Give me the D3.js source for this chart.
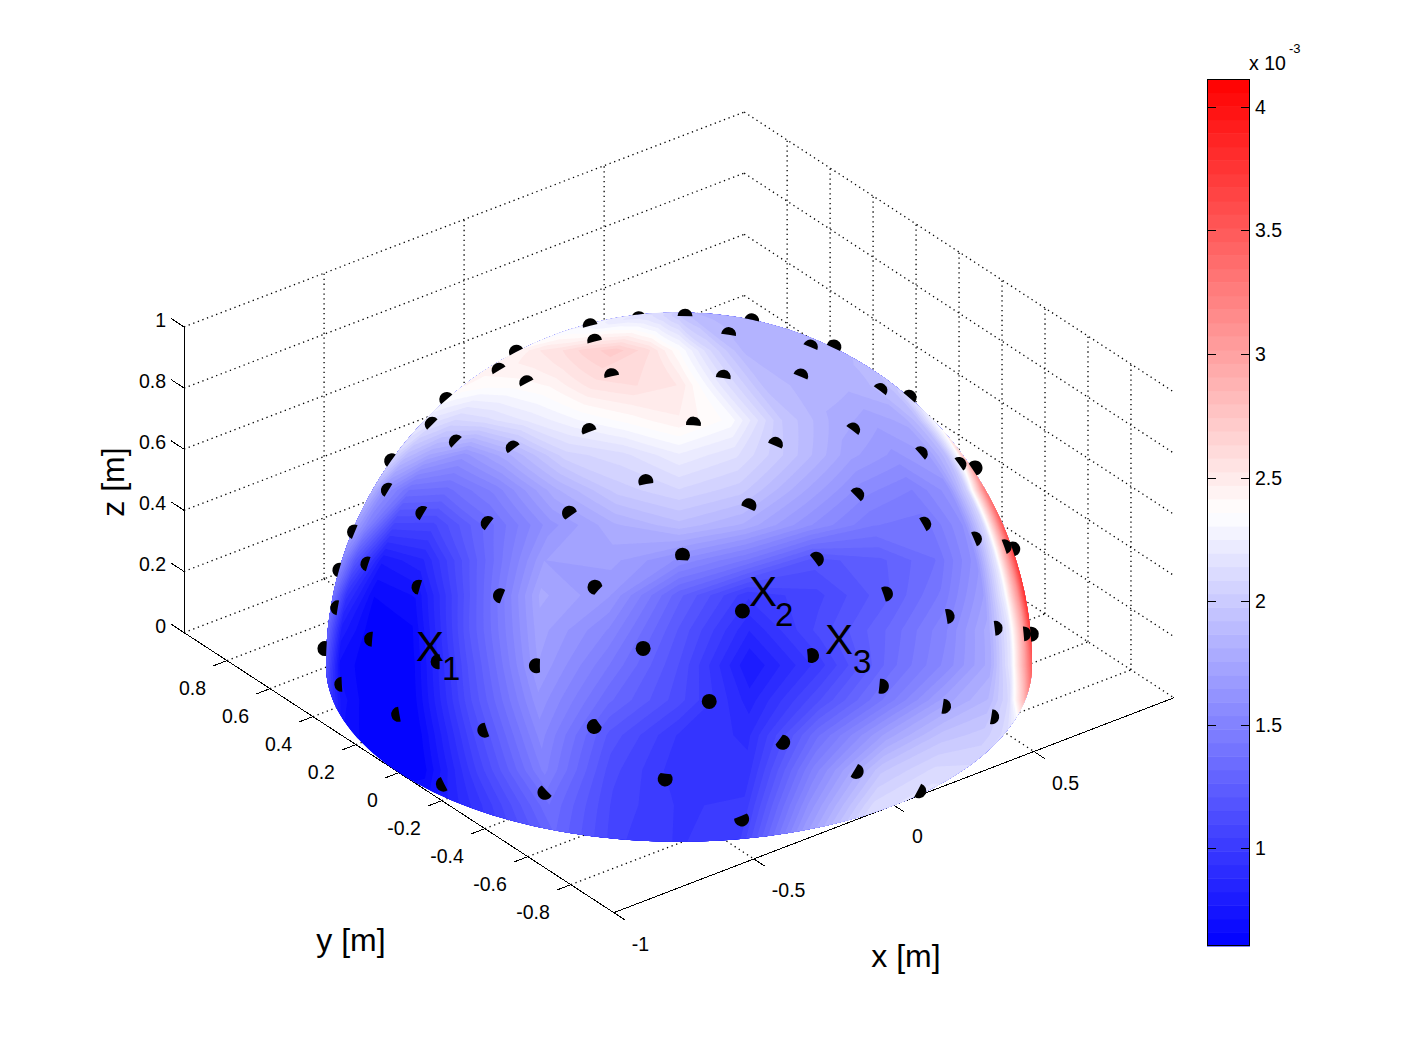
<!DOCTYPE html>
<html>
<head>
<meta charset="utf-8">
<script src="https://cdn.jsdelivr.net/npm/d3@7"></script>
<style>
  body { margin: 0; background: #fff; }
  text { font-family: "Liberation Sans", sans-serif; fill: #000; }
</style>
</head>
<body>
<div id="chart"></div>
<script>
// ----------- Data --------------
var xTicks = [-1, -0.5, 0, 0.5];
var yTicks = [-0.8, -0.6, -0.4, -0.2, 0, 0.2, 0.4, 0.6, 0.8];
var zTicks = [0, 0.2, 0.4, 0.6, 0.8, 1];
var colorTicks = [1, 1.5, 2, 2.5, 3, 3.5, 4];
var colorRange = [0.604, 4.113];

// sensor positions on the dome [m]
var sensorX = [0.036, 0.288, 0.238, 0.498, 0.227, -0.078, -0.067, -0.258, -0.318, -0.186, 0.050, 0.281, 0.453, 0.633, 0.548, 0.759, -0.279, -0.460, -0.545, -0.519, -0.370, -0.144, 0.022, 0.298, 0.505, 0.688, 0.846, -0.446, -0.648, -0.728, -0.696, -0.562, -0.364, -0.164, 0.168, 0.355, 0.554, 0.730, 0.861, -0.676, -0.810, -0.643, -0.398, -0.059, 0.111, 0.310, 0.514, 0.698, 0.829, -0.854, -0.784, -0.620, -0.323, -0.821, -0.771, -0.925, -0.924, -0.803, -0.590, -0.182, 0.006, 0.216, 0.426, -0.927, -0.984, -0.922, -0.747, -0.486, -0.324, -0.121, -0.982, -0.860, -0.628, 0.092, -0.457];
var sensorY = [0.460, 0.562, 0.282, 0.311, 0.065, 0.291, 0.669, 0.501, 0.294, 0.071, -0.141, -0.200, -0.021, 0.104, -0.221, -0.082, 0.717, 0.549, 0.326, 0.095, -0.064, -0.255, -0.420, -0.420, -0.465, -0.406, -0.275, 0.756, 0.508, 0.243, -0.019, -0.223, -0.320, -0.539, -0.608, -0.676, -0.653, -0.562, -0.431, 0.629, 0.392, 0.740, -0.535, -0.716, -0.816, -0.844, -0.801, -0.694, -0.559, 0.097, -0.191, -0.417, -0.716, 0.518, 0.643, 0.225, -0.083, -0.383, -0.602, -0.854, -0.934, -0.950, -0.900, 0.361, 0.022, -0.298, -0.579, -0.774, -0.905, -0.982, -0.183, -0.497, -0.754, -0.996, -0.887];
var sensorZ = [0.887, 0.775, 0.929, 0.809, 0.972, 0.954, 0.741, 0.826, 0.901, 0.980, 0.989, 0.939, 0.891, 0.771, 0.807, 0.647, 0.639, 0.698, 0.772, 0.849, 0.927, 0.956, 0.907, 0.857, 0.727, 0.601, 0.474, 0.479, 0.567, 0.641, 0.717, 0.797, 0.875, 0.826, 0.776, 0.646, 0.517, 0.388, 0.275, 0.385, 0.436, 0.198, 0.745, 0.695, 0.568, 0.437, 0.307, 0.175, 0.066, 0.511, 0.590, 0.664, 0.619, 0.239, 0.031, 0.307, 0.374, 0.456, 0.538, 0.487, 0.357, 0.225, 0.094, 0.098, 0.175, 0.248, 0.327, 0.407, 0.276, 0.145, 0.040, 0.114, 0.194, 0.013, 0.064];

// dome field: rows = height on the view disc, cols = fraction of the chord
var domeRows = [1, 0.892, 0.793, 0.694, 0.595, 0.496, 0.397, 0.297, 0.198, 0.099, 0, -0.099, -0.198, -0.297, -0.397, -0.51];
var domeCols = [-1, -0.96, -0.88, -0.76, -0.6, -0.4, -0.2, 0, 0.2, 0.4, 0.6, 0.76, 0.88, 0.94, 0.98, 1];
var domeField = [
  [2.2, 2.2, 2.15, 2.1, 2.1, 2.05, 2.0, 1.95, 1.9, 1.88, 1.85, 1.85, 1.85, 1.85, 1.85, 1.85],
  [2.42, 2.45, 2.52, 2.56, 2.65, 2.72, 2.6, 2.36, 2.08, 1.86, 1.84, 1.84, 1.84, 1.84, 1.84, 1.84],
  [2.42, 2.4, 2.38, 2.38, 2.42, 2.55, 2.58, 2.52, 2.18, 1.9, 1.84, 1.83, 1.86, 1.9, 1.93, 1.96],
  [2.2, 2.16, 2.08, 2.12, 2.2, 2.3, 2.38, 2.46, 2.34, 1.98, 1.8, 1.72, 1.77, 1.9, 2.15, 2.3],
  [2.08, 1.9, 1.75, 1.62, 1.8, 2.06, 2.12, 2.24, 2.15, 1.94, 1.72, 1.63, 1.7, 1.9, 2.3, 2.75],
  [1.85, 1.6, 1.37, 1.35, 1.5, 1.8, 2.0, 2.08, 2.0, 1.77, 1.56, 1.48, 1.62, 2.05, 2.85, 3.3],
  [1.72, 1.5, 1.08, 1.08, 1.33, 1.62, 1.8, 1.9, 1.8, 1.6, 1.43, 1.4, 1.6, 2.1, 3.0, 3.55],
  [1.55, 1.2, 0.78, 0.87, 1.26, 1.7, 1.72, 1.58, 1.42, 1.18, 1.25, 1.37, 1.62, 2.2, 3.1, 3.7],
  [1.4, 0.95, 0.66, 0.72, 1.22, 1.77, 1.65, 1.28, 1.0, 1.08, 1.25, 1.44, 1.7, 2.25, 3.1, 3.8],
  [1.3, 0.8, 0.63, 0.65, 1.2, 1.73, 1.53, 1.2, 0.88, 1.12, 1.33, 1.53, 1.78, 2.2, 3.0, 3.7],
  [1.2, 0.7, 0.62, 0.62, 1.15, 1.7, 1.43, 1.15, 0.77, 1.02, 1.35, 1.56, 1.78, 2.2, 3.0, 3.5],
  [1.05, 0.74, 0.61, 0.62, 1.13, 1.63, 1.33, 1.12, 0.85, 1.15, 1.46, 1.73, 1.87, 2.1, 2.8, 3.3],
  [0.9, 0.7, 0.61, 0.61, 1.08, 1.56, 1.19, 0.98, 0.92, 1.36, 1.72, 1.94, 2.0, 2.1, 2.3, 2.3],
  [0.7, 0.65, 0.61, 0.63, 1.05, 1.5, 1.12, 0.95, 0.95, 1.5, 1.96, 2.1, 2.1, 2.1, 2.1, 2.1],
  [0.7, 0.7, 0.7, 0.75, 1.0, 1.37, 1.08, 0.98, 1.0, 1.6, 2.1, 2.2, 2.2, 2.2, 2.2, 2.2],
  [0.8, 0.8, 0.8, 0.85, 1.0, 1.3, 1.05, 0.98, 1.05, 1.7, 2.25, 2.25, 2.25, 2.25, 2.25, 2.25]
];

// ----------- View --------------
var width = 1418, height = 1064;
var radius = 353, cx = 679, cy = 665.2;
var az = 37.5 * Math.PI / 180, el = 30 * Math.PI / 180;
var right = [Math.cos(az), -Math.sin(az), 0];
var up = [Math.sin(el) * Math.sin(az), Math.sin(el) * Math.cos(az), Math.cos(el)];
var toward = [-Math.cos(el) * Math.sin(az), -Math.cos(el) * Math.cos(az), Math.sin(el)];

var xScale = d3.scaleLinear().domain([-1, 1]).range([-radius, radius]);
var yScale = d3.scaleLinear().domain([-1, 1]).range([-radius, radius]);
var zScale = d3.scaleLinear().domain([0, 1]).range([0, radius]);

function project(x, y, z) {
  var X = xScale(x), Y = yScale(y), Z = zScale(z);
  return [cx + right[0] * X + right[1] * Y,
          cy - (up[0] * X + up[1] * Y + up[2] * Z)];
}

var svg = d3.select("#chart")
  .append("svg")
  .attr("width", width)
  .attr("height", height);

// ----------- Grid --------------
var line3d = d3.line();
function seg(a, b) { return line3d([project(a[0], a[1], a[2]), project(b[0], b[1], b[2])]); }

var gridLines = [];
zTicks.forEach(function (z) {
  gridLines.push([[-1, 1, z], [1, 1, z]]);
  gridLines.push([[1, 1, z], [1, -1, z]]);
});
xTicks.slice(1).forEach(function (x) {
  gridLines.push([[x, 1, 0], [x, 1, 1]]);
  gridLines.push([[x, 1, 0], [x, -1, 0]]);
});
yTicks.forEach(function (y) {
  gridLines.push([[1, y, 0], [1, y, 1]]);
  gridLines.push([[-1, y, 0], [1, y, 0]]);
});

svg.append("g")
  .selectAll("path")
  .data(gridLines)
  .join("path")
  .attr("d", function (d) { return seg(d[0], d[1]); })
  .attr("fill", "none")
  .attr("stroke", "#000")
  .attr("stroke-width", 1.3)
  .attr("stroke-dasharray", "1.3 3.6");

// ----------- Axes --------------
var axes = svg.append("g").attr("stroke", "#000").attr("fill", "none").attr("stroke-width", 1)
  .attr("shape-rendering", "crispEdges");
axes.append("path").attr("d", seg([-1, -1, 0], [1, -1, 0]));
axes.append("path").attr("d", seg([-1, -1, 0], [-1, 1, 0]));
axes.append("path").attr("d", seg([-1, 1, 0], [-1, 1, 1]));
xTicks.forEach(function (x) {
  axes.append("path").attr("d", seg([x, -1, 0], [x, -1.05, 0]));
});
yTicks.forEach(function (y) {
  axes.append("path").attr("d", seg([-1, y, 0], [-1.05, y, 0]));
});
zTicks.forEach(function (z) {
  axes.append("path").attr("d", seg([-1, 1, z], [-1, 1.06, z]));
});

var tickFont = "19.5px";
svg.append("g").selectAll("text")
  .data(xTicks)
  .join("text")
  .attr("x", function (d) { return project(d, -1, 0)[0] + 18; })
  .attr("y", function (d) { return project(d, -1, 0)[1] + 38; })
  .style("font-size", tickFont)
  .text(function (d) { return d; });
svg.append("g").selectAll("text")
  .data(yTicks)
  .join("text")
  .attr("text-anchor", "end")
  .attr("x", function (d) { return project(-1, d, 0)[0] - 21; })
  .attr("y", function (d) { return project(-1, d, 0)[1] + 34; })
  .style("font-size", tickFont)
  .text(function (d) { return d; });
svg.append("g").selectAll("text")
  .data(zTicks)
  .join("text")
  .attr("text-anchor", "end")
  .attr("x", project(-1, 1, 0)[0] - 18)
  .attr("y", function (d) { return project(-1, 1, d)[1]; })
  .style("font-size", tickFont)
  .text(function (d) { return d; });

// ----------- Surface --------------
// silhouette: upper half of the view circle plus the front half of the base circle
var outline = d3.range(0, 181, 2).map(function (a) {
  var t = a * Math.PI / 180;
  return [cx + radius * Math.cos(t), cy - radius * Math.sin(t)];
}).concat(d3.range(-217.5, -37.4, 2).map(function (a) {
  var t = a * Math.PI / 180;
  return project(Math.cos(t), Math.sin(t), 0);
}));

svg.append("clipPath").attr("id", "dome-clip")
  .append("path").attr("d", d3.line()(outline) + "Z");

var nLevels = 64;
var bandColor = d3.scaleLinear()
  .domain([colorRange[0], (colorRange[0] + colorRange[1]) / 2, colorRange[1]])
  .range(["#0000ff", "#ffffff", "#ff0000"]);
var bandStep = (colorRange[1] - colorRange[0]) / nLevels;
var levels = d3.range(nLevels).map(function (i) { return colorRange[0] + i * bandStep; });

var colIndex = d3.scaleLinear().domain(domeCols.map(function (d, i) { return i + 0.5; })).range(domeCols);
var rowIndex = d3.scaleLinear().domain(domeRows.map(function (d, i) { return i + 0.5; })).range(domeRows);

// grid position -> picture position
function domePoint(i, j) {
  var t = colIndex(i);
  var v = Math.max(-1, Math.min(1, rowIndex(j)));
  return [cx + radius * t * Math.sqrt(1 - v * v), cy - radius * v];
}

function ringPath(ring) {
  var pts = [], steps = 24;
  for (var k = 0; k < ring.length - 1; k++) {
    for (var s = 0; s < steps; s++) {
      pts.push(domePoint(ring[k][0] + (ring[k + 1][0] - ring[k][0]) * s / steps,
                         ring[k][1] + (ring[k + 1][1] - ring[k][1]) * s / steps));
    }
  }
  return d3.line()(pts) + "Z";
}

var contours = d3.contours()
  .size([domeCols.length, domeRows.length])
  .thresholds(levels)(d3.merge(domeField));

var dome = svg.append("g").attr("clip-path", "url(#dome-clip)");
dome.append("path")
  .attr("d", d3.line()(outline) + "Z")
  .attr("fill", bandColor(colorRange[0]));
dome.selectAll("path.band")
  .data(contours)
  .join("path")
  .attr("class", "band")
  .attr("fill-rule", "evenodd")
  .attr("fill", function (d) { return bandColor(d.value + bandStep / 2); })
  .attr("d", function (d) {
    return d.coordinates.map(function (poly) { return poly.map(ringPath).join(""); }).join("");
  });

// ----------- Sensors --------------
// flat discs facing the viewer, the dome hides the part of each disc behind it
var markerR = 7.5, lift = 1.005;
function sensorPath(i) {
  var p = project(sensorX[i], sensorY[i], sensorZ[i]);
  var depth = toward[0] * sensorX[i] + toward[1] * sensorY[i] + toward[2] * sensorZ[i];
  var q = depth <= 0 ? radius : radius * Math.sqrt(Math.max(0, 1 - depth * depth * lift * lift));
  var dx = p[0] - cx, dy = p[1] - cy, d = Math.hypot(dx, dy);
  if (q <= d - markerR) {
    return "M" + (p[0] - markerR) + "," + p[1] + "a" + markerR + "," + markerR + " 0 1,0 " + (2 * markerR) + ",0a" + markerR + "," + markerR + " 0 1,0 " + (-2 * markerR) + ",0Z";
  }
  var a = (d * d + q * q - markerR * markerR) / (2 * d);
  var h = Math.sqrt(Math.max(0, q * q - a * a));
  var ux = dx / d, uy = dy / d;
  var p1 = [cx + a * ux - h * uy, cy + a * uy + h * ux];
  var p2 = [cx + a * ux + h * uy, cy + a * uy - h * ux];
  return "M" + p1 + "A" + markerR + "," + markerR + " 0 " + (a < d ? 1 : 0) + ",0 " + p2 +
    "A" + q + "," + q + " 0 0,1 " + p1 + "Z";
}

svg.append("g")
  .selectAll("path")
  .data(d3.range(sensorX.length))
  .join("path")
  .attr("d", sensorPath)
  .attr("fill", "#000");

// ----------- Labels --------------
var pointLabels = [
  { name: "X", sub: "1", x: 416, y: 661, sx: 442, sy: 680 },
  { name: "X", sub: "2", x: 749, y: 606, sx: 775, sy: 626 },
  { name: "X", sub: "3", x: 825, y: 654, sx: 853, sy: 673 }
];
pointLabels.forEach(function (d) {
  svg.append("text").attr("x", d.x).attr("y", d.y).style("font-size", "42px").text(d.name);
  svg.append("text").attr("x", d.sx).attr("y", d.sy).style("font-size", "33px").text(d.sub);
});

svg.append("text").attr("text-anchor", "middle").attr("x", 351).attr("y", 951)
  .style("font-size", "32px").text("y [m]");
svg.append("text").attr("text-anchor", "middle").attr("x", 906).attr("y", 967)
  .style("font-size", "32px").text("x [m]");
svg.append("text").attr("text-anchor", "middle")
  .attr("transform", "translate(124,482)rotate(-90)")
  .style("font-size", "32px").text("z [m]");

// ----------- Colorbar --------------
var barX = 1207, barW = 43;
var barY = d3.scaleLinear().domain(colorRange).range([946, 79]);
var bar = svg.append("g");
bar.selectAll("rect")
  .data(levels)
  .join("rect")
  .attr("x", barX)
  .attr("width", barW)
  .attr("y", function (d) { return barY(d + bandStep); })
  .attr("height", function (d) { return barY(d) - barY(d + bandStep) + 0.5; })
  .attr("fill", function (d) { return bandColor(d + bandStep / 2); });
bar.append("rect")
  .attr("x", barX + 0.5).attr("y", barY(colorRange[1]) + 0.5)
  .attr("width", barW - 1).attr("height", barY(colorRange[0]) - barY(colorRange[1]) - 1)
  .attr("fill", "none").attr("stroke", "#000");
var barTicks = bar.selectAll("g")
  .data(colorTicks)
  .join("g")
  .attr("transform", function (d) { return "translate(0," + Math.round(barY(d)) + ")"; });
barTicks.append("path").attr("d", "M" + barX + ",0.5h9M" + (barX + barW) + ",0.5h-9").attr("stroke", "#000");
barTicks.append("text").attr("x", 1255).attr("y", 7).style("font-size", tickFont).text(function (d) { return d; });
svg.append("text").attr("x", 1249).attr("y", 70).style("font-size", "19.5px").text("x 10");
svg.append("text").attr("x", 1289).attr("y", 53).style("font-size", "13px").text("-3");
</script>
</body>
</html>
